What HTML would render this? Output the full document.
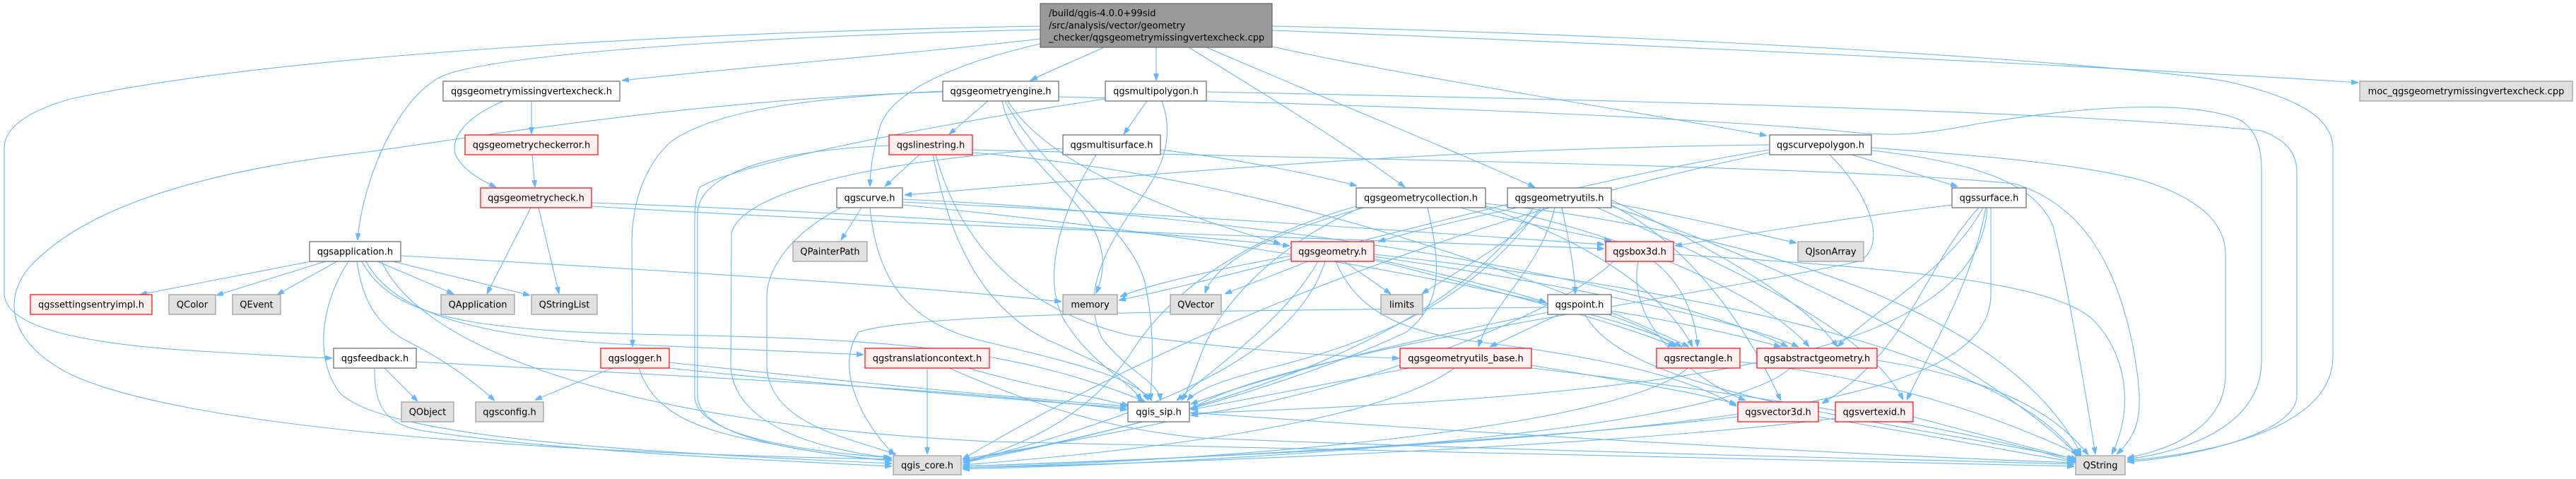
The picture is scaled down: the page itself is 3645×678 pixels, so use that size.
<!DOCTYPE html>
<html><head><meta charset="utf-8"><style>
html,body{margin:0;padding:0;background:#fff;}
svg{display:block;}
text{font-family:"DejaVu Sans","Liberation Sans",sans-serif;font-size:13px;fill:#000;}
.e{fill:none;stroke:#63b8ff;stroke-width:1.1;marker-end:url(#a);}
.w{fill:#fff;stroke:#666;stroke-width:1.2;}
.r{fill:#fff0f0;stroke:#f00;stroke-width:1.2;}
.g{fill:#e0e0e0;stroke:#999;stroke-width:1.2;}
.m{fill:#999;stroke:#666;stroke-width:1.2;}
</style></head><body>
<svg width="3645" height="678" viewBox="0 0 3645 678" xmlns="http://www.w3.org/2000/svg">
<defs><marker id="a" viewBox="0 0 10 7" refX="10" refY="3.5" markerWidth="10" markerHeight="7" markerUnits="userSpaceOnUse" orient="auto"><path d="M0,0 L10,3.5 L0,7 z" fill="#63b8ff" stroke="#63b8ff"/></marker></defs>
<g>
<!-- main -->
<path class="e" d="M1472,55 C1300,75 1050,95 880,114"/>
<path class="e" d="M1472,42 C1100,50 700,75 625,108 C560,140 512,260 506,340"/>
<path class="e" d="M1472,37 C1000,45 400,75 100,140 C30,160 6,185 6,210 L6,415 C6,470 150,490 300,498 C380,503 430,506 470,507"/>
<path class="e" d="M1472,62 C1350,90 1260,130 1245,180 C1235,215 1231,240 1231,264"/>
<path class="e" d="M1562,67 C1530,82 1490,98 1458,114"/>
<path class="e" d="M1636,67 L1636,114"/>
<path class="e" d="M1682,67 C1800,140 1900,200 1988,265"/>
<path class="e" d="M1707,67 C1900,150 2050,210 2172,265"/>
<path class="e" d="M1800,66 C2000,110 2300,155 2500,192"/>
<path class="e" d="M1800,43 C2300,62 3000,95 3337,117"/>
<path class="e" d="M1800,37 C2400,50 3000,90 3150,115 C3260,140 3301,170 3301,210 L3301,505 C3301,600 3150,640 3010,652"/>
<!-- long QString verticals -->
<path class="e" d="M2648,209 C2800,220 2950,232 3040,258 C3120,285 3149,320 3149,360 L3149,530 C3149,600 3080,635 3010,648"/>
<path class="e" d="M1498,137 C1900,148 2300,160 2600,185 C2680,195 2720,190 2800,175 C2950,150 3100,140 3170,170 C3195,185 3200,215 3200,240 L3200,510 C3200,600 3100,638 3010,650"/>
<path class="e" d="M1707,130 C2200,140 2900,155 3200,185 C3240,200 3250,220 3250,245 L3250,560 C3250,610 3120,645 3010,654"/>
<path class="e" d="M2648,213 C2800,230 2880,260 2905,320 C2925,400 2950,550 2965,643"/>
<path class="e" d="M1376,212 C1900,225 2600,235 2850,260 C2950,290 2995,380 3017,485 C3035,580 3030,610 2995,643"/>
<path class="e" d="M2368,360 C2700,380 2900,400 2960,451 C3010,500 3020,580 2988,643"/>
<!-- gmvc / check -->
<path class="e" d="M752,143 L752,190"/>
<path class="e" d="M712,143 C650,170 638,200 645,220 C655,240 680,255 702,265"/>
<path class="e" d="M753,219 L757,265"/>
<path class="e" d="M751,294 L689,416"/>
<path class="e" d="M762,294 L791,416"/>
<path class="e" d="M837,287 C1200,300 1600,325 1825,348"/>
<path class="e" d="M837,292 C1300,320 1800,335 2270,352"/>
<!-- app -->
<path class="e" d="M440,370 L198,417"/>
<path class="e" d="M461,370 L306,418"/>
<path class="e" d="M477,370 L392,417"/>
<path class="e" d="M534,370 L642,416"/>
<path class="e" d="M556,370 L750,418"/>
<path class="e" d="M493,370 C460,420 440,500 480,555 C540,620 900,640 1262,656"/>
<path class="e" d="M505,370 C512,420 530,460 580,485 C630,510 670,540 700,567"/>
<path class="e" d="M518,370 C560,450 700,480 900,488 C1050,494 1150,498 1222,502"/>
<path class="e" d="M512,370 C560,460 700,470 1000,475 C1300,482 1450,500 1620,568"/>
<path class="e" d="M567,362 C900,380 1300,405 1502,427"/>
<path class="e" d="M540,370 C600,500 900,600 1400,625 C2000,640 2600,655 2935,660"/>
<!-- feedback -->
<path class="e" d="M544,521 L591,568"/>
<path class="e" d="M530,521 C530,570 540,600 600,610 C800,640 1100,652 1262,660"/>
<path class="e" d="M589,512 C900,530 1300,545 1595,580"/>
<!-- logger -->
<path class="e" d="M866,521 L757,566"/>
<path class="e" d="M904,521 C920,570 960,600 1050,620 C1150,640 1200,648 1262,652"/>
<path class="e" d="M947,513 C1200,540 1400,560 1595,575"/>
<path class="e" d="M947,521 C1500,580 2500,640 2935,655"/>
<!-- geometryengine -->
<path class="e" d="M1398,143 L1343,190"/>
<path class="e" d="M1334,130 C1000,140 700,190 520,215 C300,240 120,290 40,380 C0,430 20,490 100,530 C250,600 700,640 1262,650"/>
<path class="e" d="M1334,129 C1100,140 1000,165 950,200 C905,240 895,300 894,340 L895,491"/>
<path class="e" d="M1422,143 C1480,250 1600,320 1620,400 C1635,470 1630,520 1628,567"/>
<path class="e" d="M1426,143 C1480,230 1650,300 1812,345"/>
<path class="e" d="M1418,143 C1440,250 1600,300 1551,415"/>
<!-- multipolygon -->
<path class="e" d="M1623,143 L1590,190"/>
<path class="e" d="M1564,140 C1300,180 1050,230 990,265 C983,280 983,300 983,320 L983,560 C983,620 1150,640 1262,648"/>
<path class="e" d="M1644,143 C1665,200 1640,250 1600,300 C1560,360 1530,420 1560,480 C1600,530 1640,540 1642,567"/>
<!-- linestring -->
<path class="e" d="M1301,219 L1252,264"/>
<path class="e" d="M1258,206 C1050,215 990,260 987,300 L987,560 C987,622 1150,642 1262,652"/>
<path class="e" d="M1320,219 C1340,320 1380,430 1480,480 C1570,520 1610,540 1625,567"/>
<path class="e" d="M1324,219 C1360,350 1450,440 1600,475 C1800,500 1900,505 1980,507"/>
<path class="e" d="M1376,216 C1800,250 2200,400 2390,491"/>
<!-- multisurface -->
<path class="e" d="M1642,212 C1750,225 1850,245 1920,263"/>
<path class="e" d="M1504,210 C1250,225 1050,270 1035,330 L1034,520 C1040,600 1150,635 1260,648"/>
<path class="e" d="M1551,219 C1500,300 1470,400 1510,460 C1550,520 1600,540 1615,567"/>
<!-- curve -->
<path class="e" d="M1219,294 L1190,340"/>
<path class="e" d="M1190,294 C1120,330 1085,380 1085,420 L1085,520 C1090,600 1200,620 1268,643"/>
<path class="e" d="M1231,294 C1240,380 1270,450 1380,480 C1500,510 1600,530 1630,567"/>
<path class="e" d="M1277,282 C1700,300 2300,380 2530,491"/>
<path class="e" d="M1277,286 C1700,305 2100,335 2270,346"/>
<path class="e" d="M1277,290 C1700,330 2250,420 2380,491"/>
<!-- geometrycollection -->
<path class="e" d="M1925,294 C1820,340 1730,420 1700,500 C1685,540 1680,555 1672,567"/>
<path class="e" d="M1919,292 C1750,340 1650,420 1600,500 C1540,590 1450,630 1362,655"/>
<path class="e" d="M1930,294 C1800,330 1720,370 1705,415"/>
<path class="e" d="M2066,294 C2150,315 2230,330 2280,341"/>
<path class="e" d="M2102,292 C2300,330 2500,420 2560,491"/>
<path class="e" d="M2102,294 C2250,340 2360,420 2395,491"/>
<path class="e" d="M2020,294 C2040,380 2040,430 1990,470 C1800,560 1500,630 1362,652"/>
<path class="e" d="M2102,288 C2500,330 2850,450 2945,644"/>
<!-- geometryutils -->
<path class="e" d="M2147,294 C2050,315 1990,330 1950,342"/>
<path class="e" d="M2185,294 C2130,350 2050,390 2012,416"/>
<path class="e" d="M2210,294 C2220,340 2228,380 2229,416"/>
<path class="e" d="M2200,294 C2180,380 2110,430 2092,491"/>
<path class="e" d="M2280,283 C2400,340 2550,420 2600,491"/>
<path class="e" d="M2280,290 C2400,350 2480,480 2520,567"/>
<path class="e" d="M2280,287 C2400,310 2480,330 2542,344"/>
<path class="e" d="M2180,294 C2100,400 2000,470 1800,520 C1720,540 1690,555 1680,567"/>
<path class="e" d="M2170,294 C2080,420 1900,550 1362,655"/>
<path class="e" d="M2280,292 C2600,400 2850,550 2940,645"/>
<path class="e" d="M2260,294 C2500,400 2650,480 2693,566"/>
<!-- curvepolygon -->
<path class="e" d="M2620,219 L2770,264"/>
<path class="e" d="M2504,205 C2000,210 1600,250 1280,276"/>
<path class="e" d="M2504,212 C2200,260 1800,380 1583,425"/>
<path class="e" d="M2589,219 C2650,280 2670,350 2630,370 C2400,420 1800,500 1685,580"/>
<path class="e" d="M2504,216 C2100,300 1700,450 1362,650"/>
<!-- surface -->
<path class="e" d="M2762,290 C2600,310 2450,335 2370,348"/>
<path class="e" d="M2806,294 C2760,380 2650,440 2600,491"/>
<path class="e" d="M2810,294 C2790,400 2740,480 2698,566"/>
<path class="e" d="M2800,294 C2720,380 2700,500 2578,571"/>
<path class="e" d="M2817,294 L2817,420 C2810,560 2500,620 1362,660"/>
<path class="e" d="M2812,294 C2800,500 2400,560 1685,585"/>
<!-- geometry -->
<path class="e" d="M1851,370 L1733,416"/>
<path class="e" d="M1902,370 L1968,416"/>
<path class="e" d="M1944,366 C2050,390 2130,410 2188,428"/>
<path class="e" d="M1865,370 C1820,450 1720,520 1665,567"/>
<path class="e" d="M1875,370 C1840,480 1700,570 1362,655"/>
<path class="e" d="M1944,363 C2200,400 2450,450 2545,491"/>
<path class="e" d="M1944,368 C2150,420 2300,460 2370,491"/>
<path class="e" d="M1890,370 C1920,440 1980,470 2100,485 C2300,510 2400,540 2457,575"/>
<path class="e" d="M1827,362 C1700,385 1620,405 1585,420"/>
<path class="e" d="M1944,360 C2500,420 2850,520 2940,645"/>
<!-- box3d -->
<path class="e" d="M2340,370 C2380,400 2400,450 2402,491"/>
<path class="e" d="M2318,370 C2300,460 2400,540 2470,567"/>
<path class="e" d="M2283,370 C2200,450 1900,560 1685,588"/>
<!-- point -->
<path class="e" d="M2206,445 L2108,491"/>
<path class="e" d="M2190,442 C2000,480 1800,530 1685,572"/>
<path class="e" d="M2190,435 C1800,440 1300,440 1215,470 C1180,520 1220,600 1266,644"/>
<path class="e" d="M2280,440 C2400,460 2480,480 2520,491"/>
<path class="e" d="M2275,445 C2320,460 2350,475 2372,491"/>
<path class="e" d="M2243,445 C2300,560 2700,600 2940,650"/>
<!-- geometryutils_base -->
<path class="e" d="M1995,521 L1685,580"/>
<path class="e" d="M2058,521 C1950,600 1600,640 1362,658"/>
<path class="e" d="M2167,517 C2300,540 2400,555 2457,572"/>
<path class="e" d="M2167,521 C2500,560 2800,610 2940,655"/>
<!-- rect / absg -->
<path class="e" d="M2388,521 C2300,600 1800,650 1362,662"/>
<path class="e" d="M2462,512 C2700,540 2850,600 2945,645"/>
<path class="e" d="M2533,521 C2450,600 1900,650 1362,664"/>
<path class="e" d="M2656,510 C2850,540 2920,600 2955,644"/>
<!-- vec3d / vid -->
<path class="e" d="M2459,590 C2200,620 1700,650 1362,660"/>
<path class="e" d="M2573,590 C2750,620 2880,645 2935,654"/>
<path class="e" d="M2597,592 C2300,630 1700,655 1362,662"/>
<path class="e" d="M2707,590 C2820,620 2900,640 2935,650"/>
<!-- translationcontext -->
<path class="e" d="M1312,521 L1312,643"/>
<path class="e" d="M1370,521 C1450,545 1540,560 1597,574"/>
<path class="e" d="M1343,521 C1500,590 1600,610 1700,620 C2200,640 2700,650 2935,657"/>
<!-- sip -->
<path class="e" d="M1683,590 C1550,620 1420,640 1362,650"/>
</g>
<g>
<rect class="m" x="1472" y="5" width="328" height="62"/>
<text x="1484" y="23">/build/qgis-4.0.0+99sid</text>
<text x="1484" y="40.5">/src/analysis/vector/geometry</text>
<text x="1484" y="57.5">_checker/qgsgeometrymissingvertexcheck.cpp</text>

<rect class="w" x="627" y="115" width="250" height="28"/><text x="752" y="133.5" text-anchor="middle">qgsgeometrymissingvertexcheck.h</text>
<rect class="w" x="1334" y="115" width="164" height="28"/><text x="1416" y="133.5" text-anchor="middle">qgsgeometryengine.h</text>
<rect class="w" x="1564" y="115" width="143" height="28"/><text x="1635.5" y="133.5" text-anchor="middle">qgsmultipolygon.h</text>
<rect class="g" x="3339" y="115" width="301" height="28"/><text x="3489.5" y="133.5" text-anchor="middle">moc_qgsgeometrymissingvertexcheck.cpp</text>

<rect class="r" x="658" y="191" width="188" height="28"/><text x="752" y="209.5" text-anchor="middle">qgsgeometrycheckerror.h</text>
<rect class="r" x="1258" y="191" width="118" height="28"/><text x="1317" y="209.5" text-anchor="middle">qgslinestring.h</text>
<rect class="w" x="1504" y="191" width="138" height="28"/><text x="1573" y="209.5" text-anchor="middle">qgsmultisurface.h</text>
<rect class="w" x="2504" y="191" width="144" height="28"/><text x="2576" y="209.5" text-anchor="middle">qgscurvepolygon.h</text>

<rect class="r" x="680" y="266" width="157" height="28"/><text x="758.5" y="284.5" text-anchor="middle">qgsgeometrycheck.h</text>
<rect class="w" x="1184" y="266" width="93" height="28"/><text x="1230.5" y="284.5" text-anchor="middle">qgscurve.h</text>
<rect class="w" x="1919" y="266" width="183" height="28"/><text x="2010.5" y="284.5" text-anchor="middle">qgsgeometrycollection.h</text>
<rect class="w" x="2133" y="266" width="147" height="28"/><text x="2206.5" y="284.5" text-anchor="middle">qgsgeometryutils.h</text>
<rect class="w" x="2762" y="266" width="105" height="28"/><text x="2814.5" y="284.5" text-anchor="middle">qgssurface.h</text>

<rect class="w" x="438" y="342" width="129" height="28"/><text x="502.5" y="360.5" text-anchor="middle">qgsapplication.h</text>
<rect class="g" x="1122" y="342" width="105" height="28"/><text x="1174.5" y="360.5" text-anchor="middle">QPainterPath</text>
<rect class="r" x="1827" y="342" width="117" height="28"/><text x="1885.5" y="360.5" text-anchor="middle">qgsgeometry.h</text>
<rect class="r" x="2272" y="342" width="96" height="28"/><text x="2320" y="360.5" text-anchor="middle">qgsbox3d.h</text>
<rect class="g" x="2544" y="342" width="93" height="28"/><text x="2590.5" y="360.5" text-anchor="middle">QJsonArray</text>

<rect class="r" x="43" y="417" width="172" height="28"/><text x="129" y="435.5" text-anchor="middle">qgssettingsentryimpl.h</text>
<rect class="g" x="239" y="417" width="66" height="28"/><text x="272" y="435.5" text-anchor="middle">QColor</text>
<rect class="g" x="329" y="417" width="68" height="28"/><text x="363" y="435.5" text-anchor="middle">QEvent</text>
<rect class="g" x="624" y="417" width="104" height="28"/><text x="676" y="435.5" text-anchor="middle">QApplication</text>
<rect class="g" x="752" y="417" width="93" height="28"/><text x="798.5" y="435.5" text-anchor="middle">QStringList</text>
<rect class="g" x="1504" y="417" width="77" height="28"/><text x="1542.5" y="435.5" text-anchor="middle">memory</text>
<rect class="g" x="1656" y="417" width="72" height="28"/><text x="1692" y="435.5" text-anchor="middle">QVector</text>
<rect class="g" x="1954" y="417" width="59" height="28"/><text x="1983.5" y="435.5" text-anchor="middle">limits</text>
<rect class="w" x="2190" y="417" width="90" height="28"/><text x="2235" y="435.5" text-anchor="middle">qgspoint.h</text>

<rect class="w" x="472" y="493" width="117" height="28"/><text x="530.5" y="511.5" text-anchor="middle">qgsfeedback.h</text>
<rect class="r" x="850" y="493" width="97" height="28"/><text x="898.5" y="511.5" text-anchor="middle">qgslogger.h</text>
<rect class="r" x="1224" y="493" width="176" height="28"/><text x="1312" y="511.5" text-anchor="middle">qgstranslationcontext.h</text>
<rect class="r" x="1981" y="493" width="186" height="28"/><text x="2074" y="511.5" text-anchor="middle">qgsgeometryutils_base.h</text>
<rect class="r" x="2344" y="493" width="118" height="28"/><text x="2403" y="511.5" text-anchor="middle">qgsrectangle.h</text>
<rect class="r" x="2486" y="493" width="170" height="28"/><text x="2571" y="511.5" text-anchor="middle">qgsabstractgeometry.h</text>

<rect class="g" x="568" y="569" width="74" height="28"/><text x="605" y="587.5" text-anchor="middle">QObject</text>
<rect class="g" x="673" y="569" width="96" height="28"/><text x="721" y="587.5" text-anchor="middle">qgsconfig.h</text>
<rect class="w" x="1596" y="569" width="87" height="28"/><text x="1639.5" y="587.5" text-anchor="middle">qgis_sip.h</text>
<rect class="r" x="2459" y="569" width="114" height="28"/><text x="2516" y="587.5" text-anchor="middle">qgsvector3d.h</text>
<rect class="r" x="2597" y="569" width="110" height="28"/><text x="2652" y="587.5" text-anchor="middle">qgsvertexid.h</text>

<rect class="g" x="1264" y="645" width="96" height="27"/><text x="1312" y="663" text-anchor="middle">qgis_core.h</text>
<rect class="g" x="2937" y="645" width="70" height="27"/><text x="2972" y="663" text-anchor="middle">QString</text>
</g>
</svg>
</body></html>
